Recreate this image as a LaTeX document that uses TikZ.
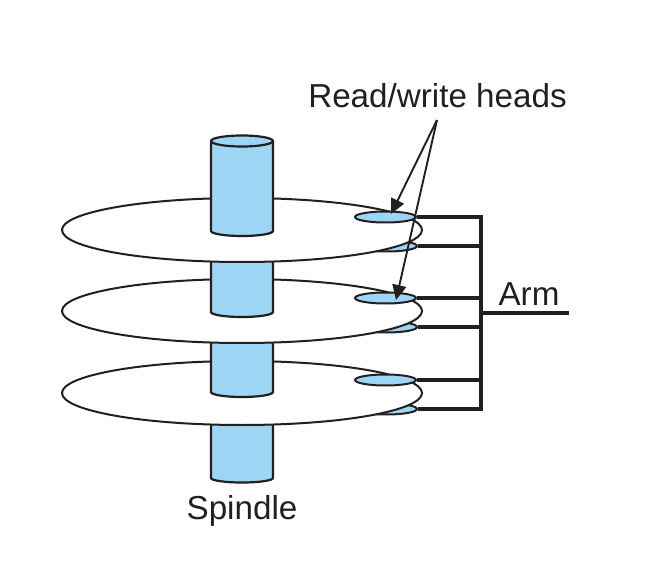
\documentclass[tikz,border=0pt]{standalone}
\usepackage{fontspec}
\setmainfont{Liberation Sans}
\usetikzlibrary{shapes.geometric,arrows.meta}
\definecolor{spinblue}{HTML}{9DD6F5}
\definecolor{inkc}{HTML}{231F20}
\tikzset{
  platter/.style={ellipse,draw=inkc,line width=2pt,fill=white,minimum width=360pt,minimum height=64pt,inner sep=0pt},
  headshape/.style={ellipse,draw=inkc,line width=2pt,fill=spinblue,minimum width=61pt,minimum height=11pt,inner sep=0pt},
  spin/.style={draw=inkc,line width=2.2pt,fill=spinblue,line join=round},
  armline/.style={draw=inkc,line width=3.2pt},
  label/.style={text=inkc,font=\fontsize{33.2}{36}\selectfont,inner sep=0pt},
  pointer/.style={draw=inkc,line width=1.9pt,-{Triangle[length=15pt,width=14pt]}}
}
\begin{document}
\begin{tikzpicture}[x=1pt,y=-1pt]
\useasboundingbox (0,0) rectangle (648,580);
% lowest spindle
\draw[spin] (211,420) -- (211,478) arc[start angle=180,end angle=0,x radius=31,y radius=4.5] -- (273,420) -- cycle;
% platter 3
\node[headshape] (h3b) at (386.5,409) {};
\node[platter] (d3) at (242,393) {};
\node[headshape] (h3a) at (385.5,380) {};
\draw[spin] (211,339) -- (211,392) arc[start angle=180,end angle=0,x radius=31,y radius=5] -- (273,339) -- cycle;
% platter 2
\node[headshape] (h2b) at (386.5,327) {};
\node[platter] (d2) at (242,311) {};
\node[headshape] (h2a) at (385.5,298) {};
\draw[spin] (211,258) -- (211,312) arc[start angle=180,end angle=0,x radius=31,y radius=5] -- (273,258) -- cycle;
% platter 1
\node[headshape] (h1b) at (386.5,246) {};
\node[platter] (d1) at (242,230) {};
\node[headshape] (h1a) at (385.5,217) {};
\draw[spin] (211,141) -- (211,231) arc[start angle=180,end angle=0,x radius=31,y radius=5] -- (273,141) -- cycle;
\draw[spin] (242,141) ellipse[x radius=31,y radius=5.5];
% arm
\coordinate (armtop) at (481,217);
\coordinate (armbot) at (481,409);
\coordinate (armmid) at (481,313);
\coordinate (armend) at (569,313);
\draw[armline,line join=miter] (h1a.east) -- (armtop) -- (armbot) -- (h3b.east);
\draw[armline] (h1b.east) -- (481,246);
\draw[armline] (h2a.east) -- (481,298);
\draw[armline] (h2b.east) -- (481,327);
\draw[armline] (h3a.east) -- (481,380);
\draw[armline] (armmid) -- (armend);
% labels
\node[label,anchor=base] (rw) at (437.5,107.5) {Read/write heads};
\node[label,anchor=base] (arm) at (529,305.5) {Arm};
\node[label,anchor=base] (sp) at (242,519) {Spindle};
% pointers
\coordinate (fan) at (437,120);
\coordinate (tip1) at (391,214);
\coordinate (tip2) at (396,300);
\draw[pointer] (fan) -- (tip1);
\draw[pointer] (fan) -- (tip2);
\end{tikzpicture}
\end{document}
